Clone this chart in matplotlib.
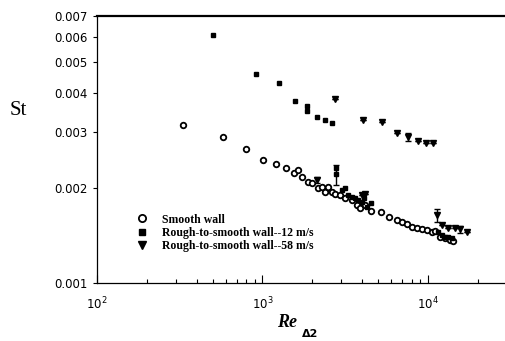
import numpy as np
import matplotlib
matplotlib.use("Agg")
import matplotlib.pyplot as plt
from matplotlib.ticker import FixedLocator, FixedFormatter, LogLocator, NullFormatter

# smooth wall
re_smooth = [331, 577, 795, 1007, 1207, 1387, 1550, 1640, 1733, 1884, 1991, 2165, 2290,
             2387, 2487, 2630, 2742, 2939, 3150, 3475, 3724, 3882, 4162, 4525, 5200, 5808,
             6500, 6966, 7465, 8002, 8580, 9200, 9860, 10570, 11020, 11810, 12670, 13580, 14160]
st_smooth = [0.00316, 0.00290, 0.00265, 0.00245, 0.00238, 0.00231, 0.00223, 0.00228, 0.00216,
             0.00209, 0.00207, 0.00200, 0.00201, 0.00194, 0.00201, 0.00194, 0.00191, 0.00190,
             0.00186, 0.00183, 0.00177, 0.00173, 0.00177, 0.00169, 0.00168, 0.00162, 0.00158,
             0.00156, 0.00154, 0.00150, 0.00149, 0.00148, 0.00147, 0.00145, 0.00146, 0.00140,
             0.00139, 0.00137, 0.00136]

# rough-to-smooth, 12 m/s
re_12 = [502, 914, 1259, 1572, 1858, 1858, 2134, 2387, 2630, 2780, 3020, 3150, 3285, 3475,
         3622, 3776, 3990, 4105, 4277, 4525, 11480, 12160, 12670, 13210, 13960]
st_12 = [0.00610, 0.00459, 0.00430, 0.00377, 0.00363, 0.00350, 0.00335, 0.00328, 0.00321,
         0.00231, 0.00197, 0.00200, 0.00190, 0.00187, 0.00186, 0.00183, 0.00180, 0.00186,
         0.00174, 0.00179, 0.00145, 0.00142, 0.00140, 0.00140, 0.00139]
# error bar on one 12 m/s point
re_12_err = [2780]
st_12_err = [0.00221]
err_12 = [0.00016]

# rough-to-smooth, 58 m/s
re_58 = [2742, 4050, 5272, 6500, 7570, 8710, 9725, 10720, 2134, 3990, 4162,
         11330, 12160, 13210, 14560, 15610, 17200]
st_58 = [0.00382, 0.00328, 0.00323, 0.00298, 0.00290, 0.00281, 0.00277, 0.00277, 0.00212,
         0.00190, 0.00191, 0.00164, 0.00153, 0.00149, 0.00149, 0.00148, 0.00145]
err_58 = [0, 0, 0, 0, 0.00008, 0, 0, 0, 0.00004, 0, 0, 0.00008, 0, 0, 0, 0.00004, 0]

y_ticks = [0.001, 0.002, 0.003, 0.004, 0.005, 0.006, 0.007]
y_labels = ["0.001", "0.002", "0.003", "0.004", "0.005", "0.006", "0.007"]

fig = plt.figure(figsize=(5.05, 3.41), dpi=100)
ax = fig.add_axes([0.192, 0.170, 0.808, 0.783])

ax.errorbar(re_12_err, st_12_err, yerr=err_12, fmt="none", ecolor="black", elinewidth=1, capsize=2)
ax.errorbar(re_58, st_58, yerr=err_58, fmt="none", ecolor="black", elinewidth=1, capsize=2)

ax.plot(re_smooth, st_smooth, "o", ms=4.0, mfc="white", mec="black", mew=1.3,
        label="Smooth wall", zorder=3)
ax.plot(re_12 + re_12_err, st_12 + st_12_err, "s", ms=3.5, color="black",
        label="Rough-to-smooth wall--12 m/s", zorder=3)
ax.plot(re_58, st_58, "v", ms=4.0, color="black",
        label="Rough-to-smooth wall--58 m/s", zorder=3)

ax.set_xscale("log")
ax.set_yscale("log")
ax.set_xlim(100, 29200)
ax.set_ylim(0.001, 0.007)

ax.yaxis.set_major_locator(FixedLocator(y_ticks))
ax.yaxis.set_major_formatter(FixedFormatter(y_labels))
ax.yaxis.set_minor_locator(FixedLocator([]))
ax.tick_params(axis="y", which="major", direction="out", length=3, width=0.8,
               labelsize=8.5, pad=4)

ax.xaxis.set_major_locator(LogLocator(base=10))
ax.xaxis.set_minor_locator(LogLocator(base=10, subs=np.arange(2, 10)))
ax.xaxis.set_minor_formatter(NullFormatter())
ax.tick_params(axis="x", which="major", direction="in", length=6, width=0.8,
               labelsize=8.5, pad=9)
ax.tick_params(axis="x", which="minor", direction="in", length=3, width=0.8)

ax.spines["right"].set_visible(False)
ax.spines["top"].set_linewidth(1.6)
ax.spines["left"].set_linewidth(0.9)
ax.spines["bottom"].set_linewidth(0.9)

leg = ax.legend(loc="upper left", bbox_to_anchor=(0.07, 0.30), frameon=False,
                handletextpad=1.2, labelspacing=0.12, handlelength=1.0,
                markerscale=1.3,
                prop={"family": "Liberation Serif", "size": 8.5, "weight": "bold"})

fig.text(0.02, 0.675, "St", family="Liberation Serif", fontsize=15, va="center", ha="left")
fig.text(0.548, 0.04, "Re", family="Liberation Serif", fontsize=13, weight="bold",
         style="italic", ha="left", va="baseline")
fig.text(0.598, 0.012, "Δ2", family="DejaVu Sans", fontsize=8, weight="bold",
         ha="left", va="baseline")

fig.savefig("out.png", dpi=100)
